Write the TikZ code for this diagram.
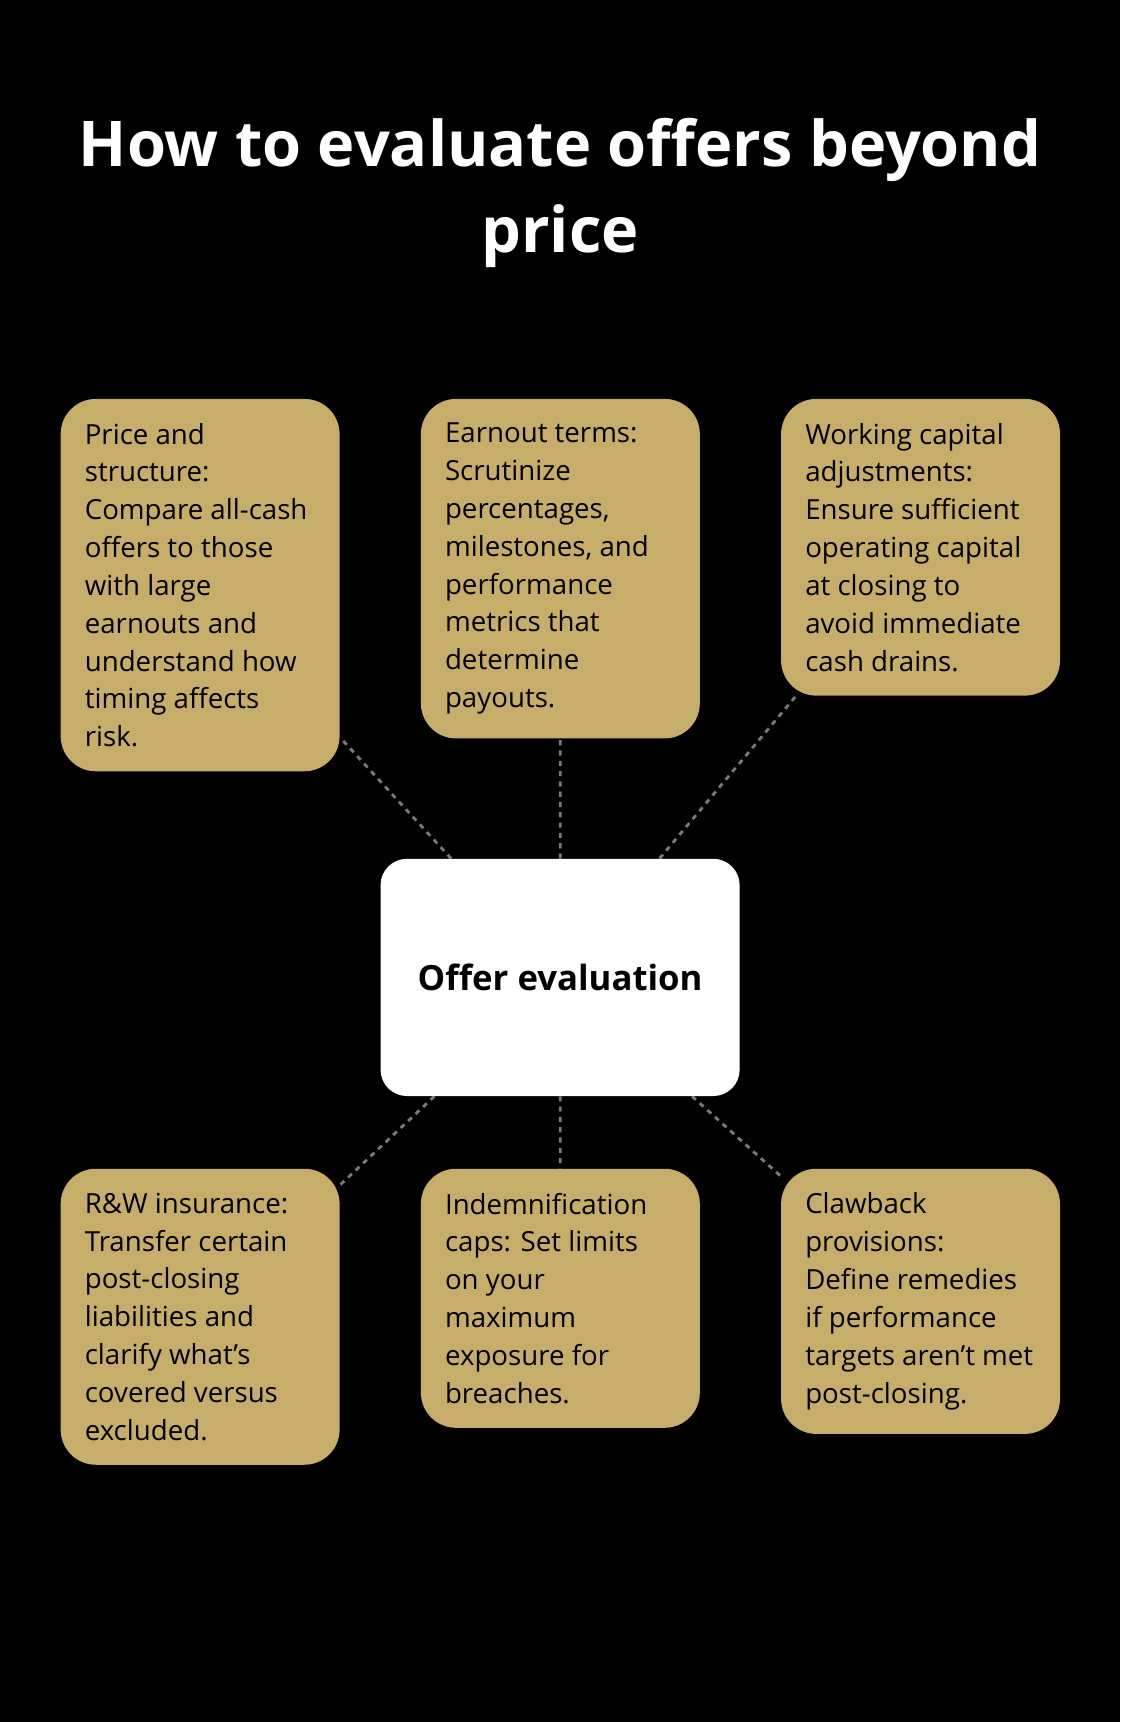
\documentclass[tikz,border=0pt]{standalone}
\usepackage{fontspec}
\setmainfont{Open Sans}
\usetikzlibrary{positioning,backgrounds}
\definecolor{gold}{HTML}{C6AD6A}
\definecolor{linkgray}{HTML}{7A7A7A}
\tikzset{
  item/.style={fill=gold, rounded corners=32*0.03cm, anchor=north west,
    text width=210*0.03cm, inner xsep=22*0.03cm, inner ysep=22*0.03cm, align=flush left,
    font=\fontsize{21.5}{29.4}\selectfont},
  hub/.style={fill=white, rounded corners=24*0.03cm, minimum width=327*0.03cm,
    minimum height=216*0.03cm, font=\fontsize{27}{32}\selectfont\bfseries},
  link/.style={draw=linkgray, line width=2.2pt, dash pattern=on 4pt off 4pt}
}
\begin{document}
\begin{tikzpicture}[x=0.03cm,y=-0.03cm]
\begin{scope}[on background layer]
\fill[black] (0,0) rectangle (1020,1568);
\end{scope}
\useasboundingbox (0,0) rectangle (1020,1568);
% title
\node[text=white, align=center, font=\fontsize{49}{67}\selectfont\bfseries] (title) at (510,176) {How to evaluate offers beyond\\price};
% hub
\node[hub] (hub) at (510,890) {Offer evaluation};
% top row
\node[item] (price) at (55,363) {Price and\\structure:\\Compare all-cash\\offers to those\\with large\\earnouts and\\understand how\\timing affects\\risk.};
\node[item] (earnout) at (383,363) {Earnout terms:\\Scrutinize\\percentages,\\milestones, and\\performance\\metrics that\\determine\\payouts.};
\node[item] (capital) at (711,363) {Working capital\\adjustments:\\Ensure sufficient\\operating capital\\at closing to\\avoid immediate\\cash drains.};
% bottom row
\node[item] (insure) at (55,1064) {R\&W insurance:\\Transfer certain\\post-closing\\liabilities and\\clarify what’s\\covered versus\\excluded.};
\node[item] (indem) at (383,1064) {Indemnification\\caps: Set limits\\on your\\maximum\\exposure for\\breaches.};
\node[item] (claw) at (711,1064) {Clawback\\provisions:\\Define remedies\\if performance\\targets aren’t met\\post-closing.};
% connectors
\begin{scope}[on background layer]
\foreach \n in {price,earnout,capital,insure,indem,claw}
  \draw[link] (hub) -- (\n);
\end{scope}
\end{tikzpicture}
\end{document}
